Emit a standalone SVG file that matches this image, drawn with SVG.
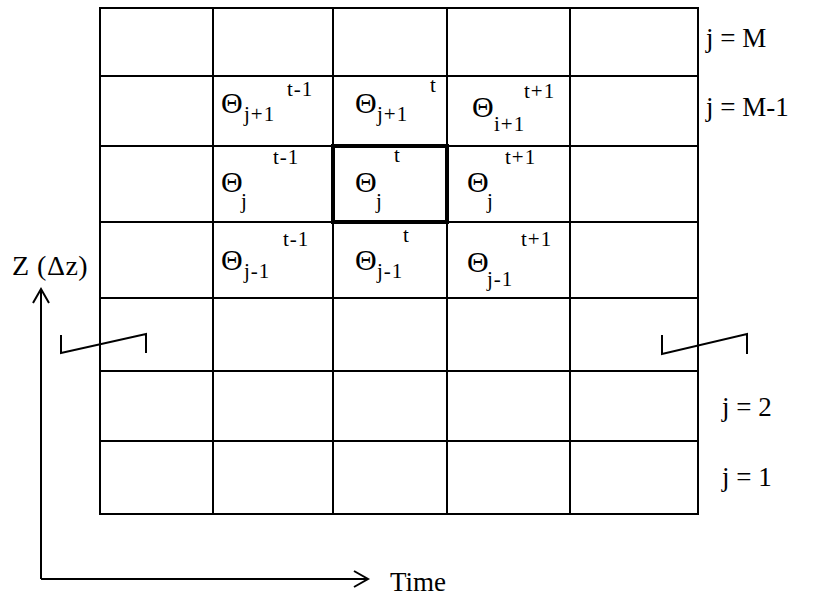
<svg xmlns="http://www.w3.org/2000/svg" width="825" height="598" viewBox="0 0 825 598">
<style>
.g{stroke:#000;stroke-width:2;fill:none}
.t{font-family:"Liberation Serif","Times New Roman",serif;fill:#000}
.b{font-size:30px}
.s{font-size:21px;letter-spacing:1px}
.L{font-size:27px}
</style>
<defs>
<marker id="ah" markerWidth="20" markerHeight="20" refX="16" refY="10" orient="auto" markerUnits="userSpaceOnUse">
<path d="M2,2 L16,10 L2,18" fill="none" stroke="#000" stroke-width="2"/>
</marker>
</defs>
<rect width="825" height="598" fill="#fff"/>
<g id="grid" class="g">
<rect x="100" y="8" width="598" height="506"/>
<path d="M213,8V514 M333,8V514 M447,8V514 M570,8V514"/>
<path d="M100,76H698 M100,146H698 M100,222H698 M100,298H698 M100,371H698 M100,441H698"/>
</g>
<g id="current"><rect x="333" y="146" width="114" height="76" fill="none" stroke="#000" stroke-width="4"/></g>
<g id="connectors" class="g">
<path d="M41,579V289" marker-end="url(#ah)"/>
<path d="M41,579H368" marker-end="url(#ah)"/>
<path d="M61,335V353L146,334V353"/>
<path d="M662,335V354L747,334V354"/>
</g>
<g id="labels" class="t">
<text class="L" x="706" y="47">j = M</text>
<text class="L" x="706" y="116">j = M-1</text>
<text class="L" x="722" y="416">j = 2</text>
<text class="L" x="722" y="486">j = 1</text>
<text class="L" x="12" y="275" style="font-size:28px;letter-spacing:0.5px">Z (Δz)</text>
<text class="L" x="390" y="591">Time</text>
</g>
<g id="c1" class="t"><text class="b" x="221" y="113">Θ</text><text class="s" x="244" y="121">j+1</text><text class="s" x="287" y="96">t-1</text></g>
<g id="c2" class="t"><text class="b" x="355" y="113">Θ</text><text class="s" x="377" y="121">j+1</text><text class="s" x="430" y="92">t</text></g>
<g id="c3" class="t"><text class="b" x="472" y="117">Θ</text><text class="s" x="494" y="131">i+1</text><text class="s" x="524" y="98">t+1</text></g>
<g id="c4" class="t"><text class="b" x="221" y="192">Θ</text><text class="s" x="241" y="208">j</text><text class="s" x="273" y="164">t-1</text></g>
<g id="c5" class="t"><text class="b" x="355" y="192">Θ</text><text class="s" x="376" y="208">j</text><text class="s" x="394" y="162">t</text></g>
<g id="c6" class="t"><text class="b" x="467" y="192">Θ</text><text class="s" x="487" y="208">j</text><text class="s" x="505" y="164">t+1</text></g>
<g id="c7" class="t"><text class="b" x="221" y="270">Θ</text><text class="s" x="244" y="278">j-1</text><text class="s" x="283" y="246">t-1</text></g>
<g id="c8" class="t"><text class="b" x="355" y="270">Θ</text><text class="s" x="377" y="278">j-1</text><text class="s" x="403" y="242">t</text></g>
<g id="c9" class="t"><text class="b" x="467" y="272">Θ</text><text class="s" x="487" y="286">j-1</text><text class="s" x="521" y="246">t+1</text></g>
</svg>
